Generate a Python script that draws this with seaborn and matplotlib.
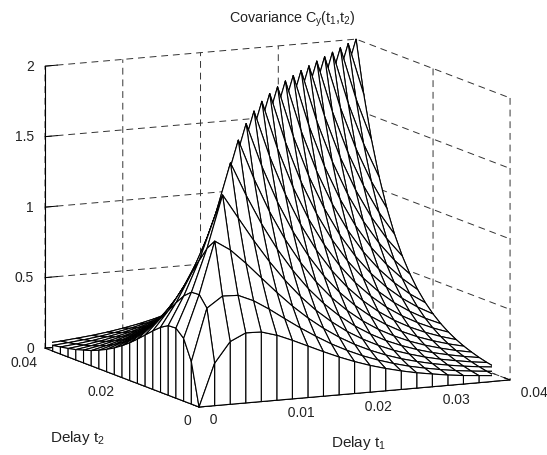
import numpy as np
import matplotlib
matplotlib.use('Agg')
import matplotlib.pyplot as plt
import seaborn as sns

# delays (21 lines each way)
delay = np.arange(21) * 0.002

# covariance, surface is symmetric so only t2 <= t1 is kept
cov_rows = [
    [0.0],
    [.301, .670],
    [.445, .746, 1.115],
    [.497, .742, 1.043, 1.412],
    [.494, .694, .939, 1.240, 1.609],
    [.461, .625, .825, 1.070, 1.371, 1.740],
    [.415, .548, .712, .912, 1.157, 1.458, 1.827],
    [.365, .473, .606, .770, .970, 1.215, 1.516, 1.885],
    [.315, .404, .512, .645, .809, 1.009, 1.254, 1.555, 1.924],
    [.268, .340, .429, .537, .670, .834, 1.034, 1.279, 1.580, 1.949],
    [.226, .285, .357, .446, .554, .687, .851, 1.051, 1.296, 1.597, 1.966],
    [.189, .237, .296, .368, .457, .565, .698, .862, 1.062, 1.307, 1.608, 1.977],
    [.158, .197, .245, .304, .376, .465, .573, .706, .870, 1.070, 1.315, 1.616, 1.985],
    [.131, .163, .202, .250, .309, .381, .470, .578, .711, .875, 1.075, 1.320, 1.621, 1.990],
    [.108, .134, .166, .205, .253, .312, .384, .473, .581, .714, .878, 1.078, 1.323, 1.624, 1.993],
    [.090, .111, .137, .169, .208, .256, .315, .387, .476, .584, .717, .881, 1.081, 1.326, 1.627, 1.996],
    [.073, .091, .112, .138, .170, .209, .257, .316, .388, .477, .585, .718, .882, 1.082, 1.327, 1.628, 1.997],
    [.060, .074, .092, .113, .139, .171, .210, .258, .317, .389, .478, .586, .719, .883, 1.083, 1.328, 1.629, 1.998],
    [.050, .061, .075, .093, .114, .140, .172, .211, .259, .318, .390, .479, .587, .720, .884, 1.084, 1.329, 1.630, 1.999],
    [.040, .050, .061, .075, .093, .114, .140, .172, .211, .259, .318, .390, .479, .587, .720, .884, 1.084, 1.329, 1.630, 1.999],
    [.033, .040, .050, .061, .075, .093, .114, .140, .172, .211, .259, .318, .390, .479, .587, .720, .884, 1.084, 1.329, 1.630, 1.999],
]

t1_ticks = [0, 0.01, 0.02, 0.03, 0.04]
t1_labels = ['0', '0.01', '0.02', '0.03', '0.04']
t2_ticks = [0, 0.02, 0.04]
t2_labels = ['0', '0.02', '0.04']
cov_ticks = [0, 0.5, 1, 1.5, 2]
cov_labels = ['0', '0.5', '1', '1.5', '2']

sns.set_style('white', {'xtick.bottom': True, 'ytick.left': True})
plt.rcParams['font.family'] = ['Liberation Sans', 'DejaVu Sans']
plt.rcParams['mathtext.fontset'] = 'custom'
plt.rcParams['mathtext.rm'] = 'Liberation Sans'
plt.rcParams['mathtext.it'] = 'Liberation Sans'

cov = np.zeros((21, 21))
for i, row in enumerate(cov_rows):
    cov[i, :i + 1] = row
    cov[:i + 1, i] = row

# extra ring at z=0 gives the curtain round the mesh
edge = np.concatenate([[delay[0]], delay, [delay[-1]]])
X, Y = np.meshgrid(edge, edge)
Z = np.pad(cov, 1)

fig = plt.figure(figsize=(5.47, 4.55), dpi=100)
S = 440
ax = fig.add_axes([51.6 / 547, 6 / 455, S / 547, S / 455], projection='3d', proj_type='ortho')
ax.set_box_aspect((344.6, 357.8, 286.8), zoom=556.8 / S)
ax.view_init(elev=10.5, azim=-115.5)
ax.patch.set_alpha(0)

ax.plot_surface(X, Y, Z, rstride=1, cstride=1, color='white', edgecolor='black',
                linewidth=0.8, shade=False, antialiased=True)

ax.set_xlim(0, 0.04)
ax.set_ylim(0, 0.04)
ax.set_zlim(0, 2)
# leading spaces push the t1 labels right, mplot3d has no x offset for them
ax.set_xticks(t1_ticks, ['  ' + s for s in t1_labels], ha='left')
ax.set_yticks(t2_ticks, t2_labels, ha='right')
ax.set_zticks(cov_ticks, cov_labels, ha='right', va='center_baseline')
ax.tick_params(labelsize=10, labelcolor='#222222', color='black', width=0.7)
ax.tick_params(axis='x', pad=-5)
ax.tick_params(axis='y', pad=-4)
ax.tick_params(axis='z', pad=-4)

for axis in (ax.xaxis, ax.yaxis, ax.zaxis):
    axis.set_pane_color((1, 1, 1, 1))
    axis.pane.set_edgecolor((1, 1, 1, 0))
    axis.line.set_color('black')
    axis.line.set_linewidth(0.8)
    axis._axinfo['grid'].update(color='#333333', linewidth=0.7, linestyle=(0, (7, 5)))
    axis._axinfo['tick'].update(inward_factor=0.0, outward_factor=0.5, linewidth={True: 0.7, False: 0.7})
ax.grid(True)

fig.text(292 / 547, 1 - 23 / 455, r'Covariance C$_{\mathrm{y}}$(t$_{\mathrm{1}}$,t$_{\mathrm{2}}$)',
         ha='center', va='baseline', fontsize=10.3, color='#222222')
fig.text(77.5 / 547, 1 - 441.7 / 455, r'Delay t$_{\mathrm{2}}$', ha='center', va='baseline', fontsize=11, color='#222222')
fig.text(358.5 / 547, 1 - 447 / 455, r'Delay t$_{\mathrm{1}}$', ha='center', va='baseline', fontsize=11, color='#222222')

fig.savefig('out.png', dpi=100)
